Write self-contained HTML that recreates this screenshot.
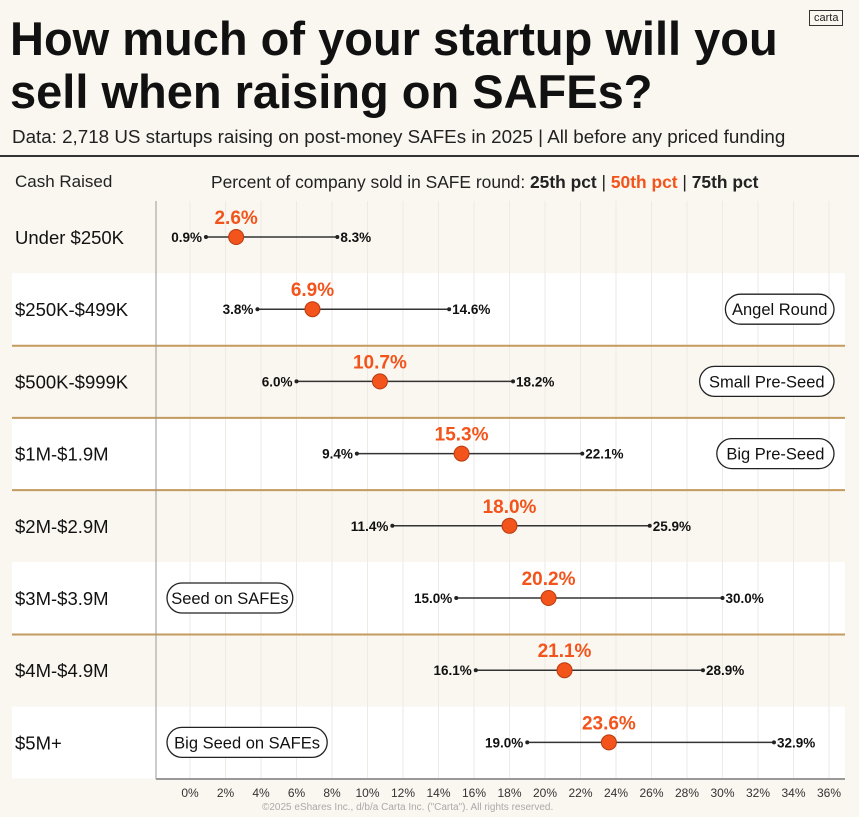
<!DOCTYPE html>
<html><head><meta charset="utf-8"><style>
body{margin:0;width:859px;height:817px;background:#faf6f0;font-family:"Liberation Sans",sans-serif;overflow:hidden;position:relative}
.t{position:absolute;white-space:nowrap}
</style></head><body>
<div class="t" style="left:10px;top:12px;font-size:47px;font-weight:bold;line-height:53px;color:#111">How much of your startup will you<br>sell when raising on SAFEs?</div>
<div class="t" style="left:12px;top:126px;font-size:18.8px;color:#222">Data: 2,718 US startups raising on post-money SAFEs in 2025 | All before any priced funding</div>
<div class="t" style="left:809px;top:10px;font-size:11px;border:1px solid #333;padding:1px 4px;color:#222">carta</div>
<div style="position:absolute;left:0;top:155px;width:859px;height:2px;background:#333"></div>
<div class="t" style="left:15px;top:172px;font-size:17px;color:#222">Cash Raised</div>
<div class="t" style="left:211px;top:172px;font-size:17.4px;color:#222">Percent of company sold in SAFE round: <b>25th pct</b> | <b style="color:#f2541b">50th pct</b> | <b>75th pct</b></div>
<svg id="c" width="859" height="817" style="position:absolute;left:0;top:0"></svg>
<div class="t" style="left:262px;top:802px;font-size:10px;color:#aaa">©2025 eShares Inc., d/b/a Carta Inc. ("Carta"). All rights reserved.</div>
<script>
const categories=["Under $250K","$250K-$499K","$500K-$999K","$1M-$1.9M","$2M-$2.9M","$3M-$3.9M","$4M-$4.9M","$5M+"];
const p25=[0.9,3.8,6.0,9.4,11.4,15.0,16.1,19.0];
const p50=[2.6,6.9,10.7,15.3,18.0,20.2,21.1,23.6];
const p75=[8.3,14.6,18.2,22.1,25.9,30.0,28.9,32.9];
const ticks=[0,2,4,6,8,10,12,14,16,18,20,22,24,26,28,30,32,34,36];
const badges=[null,"Angel Round","Small Pre-Seed","Big Pre-Seed",null,"Seed on SAFEs",null,"Big Seed on SAFEs"];
const badgeLeft=[false,false,false,false,false,true,false,true];
const NS="http://www.w3.org/2000/svg",svg=document.getElementById('c');
const x=v=>190+v*17.75, y=i=>237+i*72.2;
function el(t,a,txt){const e=document.createElementNS(NS,t);for(const k in a)e.setAttribute(k,a[k]);if(txt!=null)e.textContent=txt;svg.appendChild(e);return e;}
categories.forEach((c,i)=>{const b=el('rect',{x:12,y:y(i)-36,width:833,height:72,fill:i%2?'#ffffff':'#faf6f0'});

});
ticks.forEach(t=>{const g=el('line',{x1:x(t),x2:x(t),y1:201,y2:779,stroke:'#eeeae4','stroke-width':1});


const l=el('text',{x:x(t),y:797,'font-size':12,'text-anchor':'middle',fill:'#333'},t+'%');

});
[1,2,3,5].forEach(i=>{const s=el('line',{x1:12,x2:845,y1:y(i)+36.5,y2:y(i)+36.5,stroke:'#c49a5e','stroke-width':2});

});
const ax=el('line',{x1:156,x2:156,y1:201,y2:779,stroke:'#999','stroke-width':1});


const bx=el('line',{x1:156,x2:845,y1:779,y2:779,stroke:'#999','stroke-width':2});


categories.forEach((c,i)=>{const cy=y(i);
const lb=el('text',{x:15,y:cy+7,'font-size':18.5,fill:'#111'},c);


const ln=el('line',{x1:x(p25[i]),x2:x(p75[i]),y1:cy,y2:cy,stroke:'#333','stroke-width':1.5});


[p25[i],p75[i]].forEach(v=>{const d=el('circle',{cx:x(v),cy:cy,r:2,fill:'#222'});

});
const t1=el('text',{x:x(p25[i])-4,y:cy+5,'font-size':13.5,'font-weight':'bold','text-anchor':'end',fill:'#111'},p25[i].toFixed(1)+'%');


const t3=el('text',{x:x(p75[i])+3,y:cy+5,'font-size':13.5,'font-weight':'bold',fill:'#111'},p75[i].toFixed(1)+'%');


const m=el('circle',{cx:x(p50[i]),cy:cy,r:7.5,fill:'#f2541b',stroke:'#b83a10','stroke-width':1});


const t2=el('text',{x:x(p50[i]),y:cy-13,'font-size':19,'font-weight':'bold','text-anchor':'middle',fill:'#f2541b'},p50[i].toFixed(1)+'%');


if(badges[i]){const w=badges[i].length*8.6+14;const bx0=badgeLeft[i]?167:834-w;
const r=el('rect',{x:bx0,y:cy-15,width:w,height:30,rx:15,fill:'#fff',stroke:'#222','stroke-width':1.3});


const bt=el('text',{x:bx0+w/2,y:cy+6,'font-size':16.5,'text-anchor':'middle',fill:'#111'},badges[i]);

}
});
</script>
</body></html>
